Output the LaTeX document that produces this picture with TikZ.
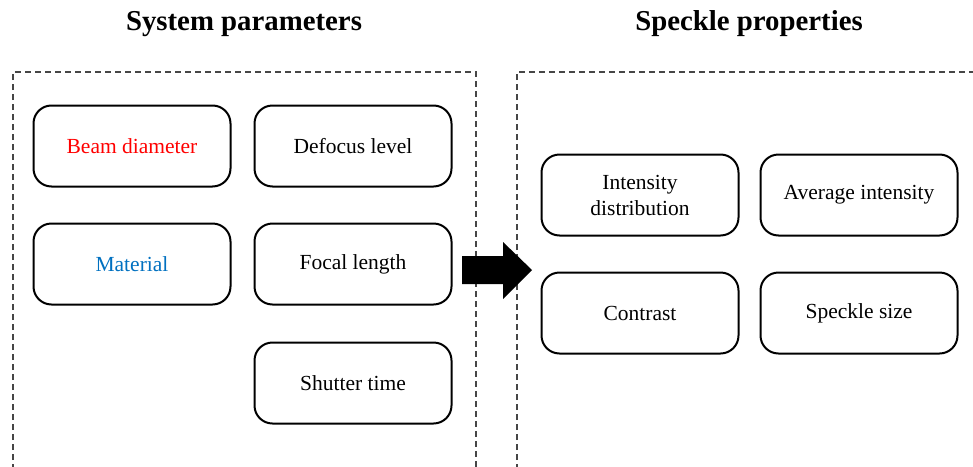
\documentclass[tikz,border=0pt]{standalone}
\usepackage{fontspec}
\setmainfont{Liberation Serif}
\definecolor{dashgray}{RGB}{70,70,70}
\definecolor{beamred}{RGB}{255,0,0}
\definecolor{matblue}{RGB}{0,112,192}
\begin{document}
\begin{tikzpicture}[x=1pt,y=-1pt,
  param/.style={draw=black,line width=2pt,rounded corners=18pt,minimum width=197pt,minimum height=81pt,align=center,font=\fontsize{21.5}{26}\selectfont,inner sep=0pt},
  group/.style={draw=dashgray,line width=1.2pt,dash pattern=on 6pt off 4pt},
  title/.style={font=\fontsize{28.8}{34}\selectfont\bfseries}]
\useasboundingbox (0,0) rectangle (973,466);
\draw[group] (13,480) -- (13,72) -- (476,72) -- (476,480);
\draw[group] (517,480) -- (517,72) -- (990,72);
\node[title] (t1) at (244,24) {System parameters};
\node[title] (t2) at (749,24) {Speckle properties};
\node[param,text=beamred] (beam) at (132,146) {Beam diameter};
\node[param] (defocus) at (353,146) {Defocus level};
\node[param,text=matblue] (mat) at (132,264) {Material};
\node[param] (focal) at (353,264) {Focal length};
\node[param] (shutter) at (353,383) {Shutter time};
\node[param] (intdist) at (640,195) {Intensity\\distribution};
\node[param] (avg) at (859,195) {Average intensity};
\node[param] (contrast) at (640,313) {Contrast};
\node[param] (size) at (859,313) {Speckle size};
\coordinate (arrtip) at (532,270);
\fill[black] (462,256) -- (503,256) -- (503,242) -- (arrtip) -- (503,299) -- (503,284) -- (462,284) -- cycle;
\end{tikzpicture}
\end{document}
